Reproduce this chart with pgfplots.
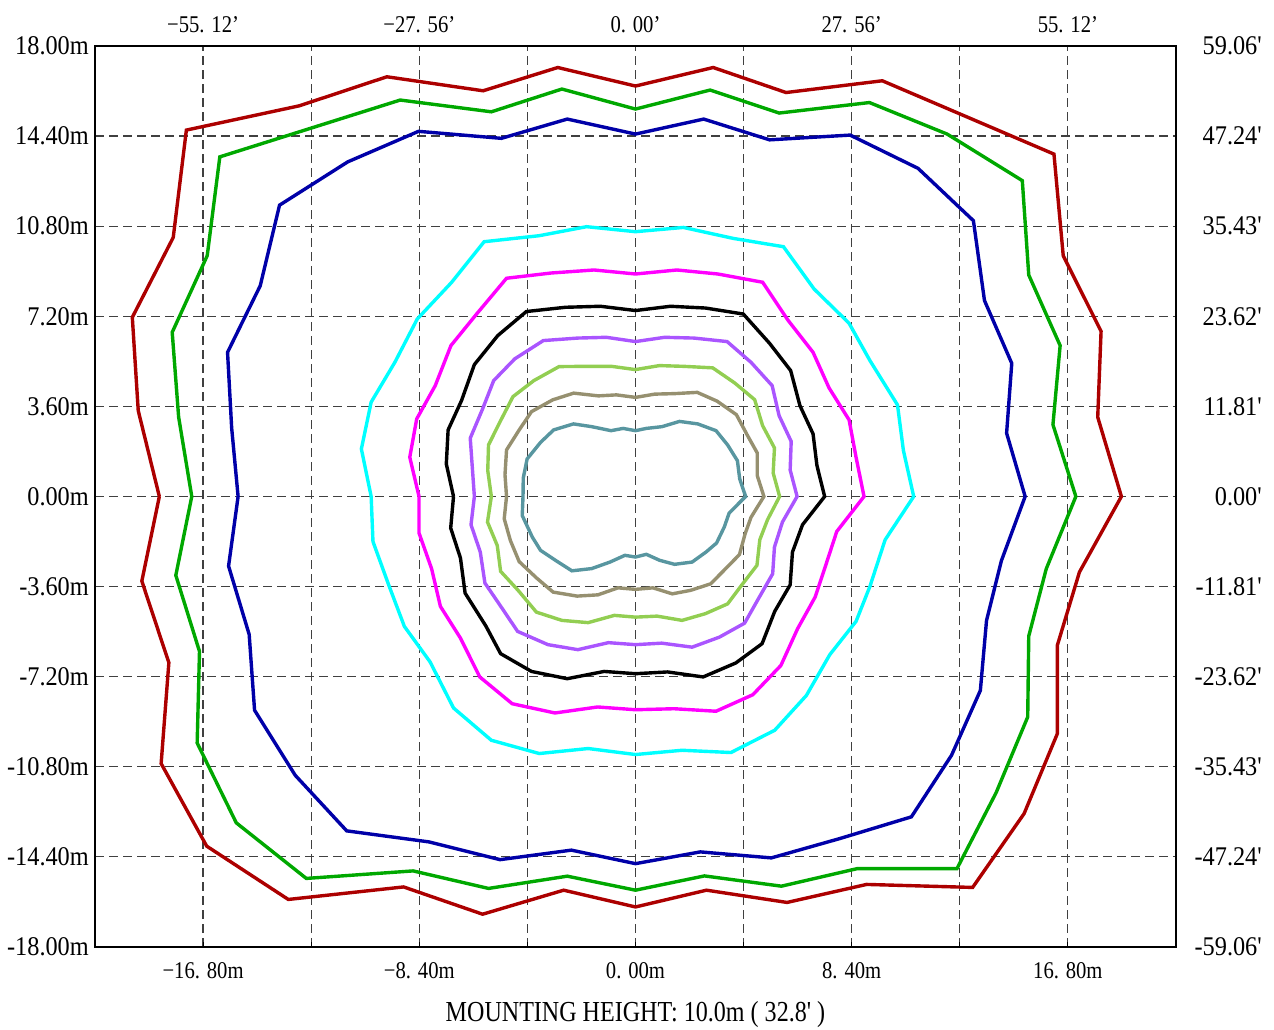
\documentclass[border=0pt]{standalone}
\usepackage{fontspec}
\setmainfont{Liberation Serif}
\newfontfamily\labfont[FakeStretch=0.9,Ligatures=TeXOff]{Liberation Serif}
\newfontfamily\simfont[FakeStretch=0.86]{Liberation Serif}
\newfontfamily\capfont[FakeStretch=0.83,Ligatures=TeXOff]{Liberation Serif}
\usepackage{pgfplots}
\pgfplotsset{compat=1.18}

\definecolor{cRed}{RGB}{172,0,0}
\definecolor{cGreen}{RGB}{0,168,0}
\definecolor{cBlue}{RGB}{0,0,168}
\definecolor{cCyan}{RGB}{0,255,255}
\definecolor{cMag}{RGB}{255,0,255}
\definecolor{cPurple}{RGB}{170,85,255}
\definecolor{cLgreen}{RGB}{146,206,82}
\definecolor{cKhaki}{RGB}{150,144,112}
\definecolor{cTeal}{RGB}{88,150,160}

\pgfplotsset{
  iso/.style={mark=none, line width=3.4pt, line join=miter},
}

\begin{document}
\begin{tikzpicture}
\useasboundingbox (0,0) rectangle (1274pt,1030pt);

% main axis: grid, contours, bottom/left labels
\begin{axis}[
  at={(95pt,83pt)}, anchor=south west,
  width=1081pt, height=901pt, scale only axis,
  xmin=-21, xmax=21, ymin=-18, ymax=18,
  axis line style={black, line width=1.1pt},
  xtick={-16.8,-12.6,-8.4,-4.2,0,4.2,8.4,12.6,16.8},
  xticklabels={−16. 80m,,−8. 40m,,0. 00m,,8. 40m,,16. 80m},
  ytick={-18,-14.4,-10.8,-7.2,-3.6,0,3.6,7.2,10.8,14.4,18},
  yticklabels={-18.00m,-14.40m,-10.80m,-7.20m,-3.60m,0.00m,3.60m,7.20m,10.80m,14.40m,18.00m},
  xtick pos=left, ytick pos=left,
  tick align=inside, major tick length=5pt,
  xtick style={black, line width=0.8pt},
  ytick style={draw=none},
  xmajorgrids, ymajorgrids,
  major grid style={black!75, line width=1.2pt, dash pattern=on 9pt off 5pt},
  xticklabel style={font=\simfont\fontsize{24}{24}\selectfont, anchor=base, yshift=-32pt, inner sep=0pt},
  yticklabel style={font=\labfont\fontsize{27}{27}\selectfont, anchor=east, xshift=-6pt, inner sep=0pt},
  xlabel={MOUNTING HEIGHT: 10.0m ( 32.8' )},
  xlabel style={font=\capfont\fontsize{29}{29}\selectfont, at={(axis description cs:0.5,0)}, anchor=base, yshift=-75pt, inner sep=0pt},
]
% outer red
\addplot[iso, cRed] coordinates {
(-18.50,0) (-19.32,3.43) (-19.55,7.16) (-17.96,10.35) (-17.45,14.64) (-13.06,15.61)
(-9.66,16.77) (-5.92,16.21) (-3.02,17.14) (0,16.40) (3.02,17.14) (5.85,16.14)
(9.59,16.61) (16.26,13.68) (16.62,9.62) (18.09,6.60) (17.96,3.17) (18.88,0)
(17.25,-3.02) (16.39,-5.95) (16.39,-9.48) (15.10,-12.67) (13.10,-15.62) (8.98,-15.50)
(5.89,-16.22) (2.76,-15.73) (0,-16.40) (-2.79,-15.73) (-5.94,-16.69) (-9.01,-15.60)
(-13.49,-16.10) (-16.66,-13.97) (-18.43,-10.67) (-18.13,-6.64) (-19.18,-3.38) (-18.50,0)
};
% green
\addplot[iso, cGreen] coordinates {
(-17.24,0) (-17.75,3.17) (-18.00,6.56) (-16.64,9.62) (-16.15,13.57) (-9.14,15.84)
(-5.60,15.37) (-2.86,16.28) (0,15.48) (2.90,16.24) (5.58,15.32) (9.09,15.74)
(12.11,14.48) (15.03,12.62) (15.28,8.85) (16.50,6.03) (16.22,2.87) (17.11,0)
(15.96,-2.89) (15.28,-5.58) (15.24,-8.81) (14.01,-11.84) (12.49,-14.87) (8.61,-14.87)
(5.67,-15.57) (2.68,-15.16) (0,-15.73) (-2.65,-15.17) (-5.71,-15.66) (-8.64,-14.96)
(-12.79,-15.26) (-15.51,-13.04) (-17.03,-9.85) (-16.94,-6.19) (-17.86,-3.15) (-17.24,0)
};
% blue
\addplot[iso, cBlue] coordinates {
(-15.44,0) (-15.69,2.74) (-15.85,5.76) (-14.58,8.42) (-13.83,11.64) (-11.18,13.37)
(-8.43,14.59) (-5.21,14.31) (-2.65,15.08) (0,14.48) (2.65,15.08) (5.21,14.25)
(8.34,14.44) (10.98,13.11) (13.13,11.02) (13.56,7.83) (14.62,5.32) (14.42,2.53)
(15.14,0) (14.22,-2.56) (13.64,-4.95) (13.40,-7.75) (12.28,-10.34) (10.72,-12.80)
(7.93,-13.67) (5.28,-14.44) (2.52,-14.20) (0,-14.67) (-2.49,-14.13) (-5.26,-14.51)
(-8.03,-13.80) (-11.22,-13.36) (-13.22,-11.14) (-14.80,-8.54) (-15.01,-5.51) (-15.81,-2.78) (-15.44,0)
};
% cyan
\addplot[iso, cCyan] coordinates {
(-10.27,0) (-10.65,1.90) (-10.27,3.77) (-9.35,5.36) (-8.48,7.09) (-7.14,8.56)
(-5.88,10.18) (-3.74,10.42) (-1.90,10.78) (0,10.58) (1.86,10.75) (3.81,10.31)
(5.75,9.98) (6.94,8.29) (8.30,6.92) (9.11,5.43) (10.18,3.66) (10.41,1.84) (10.81,0)
(9.70,-1.73) (9.11,-3.59) (8.57,-4.99) (7.55,-6.32) (6.64,-7.95) (5.41,-9.34)
(3.71,-10.23) (1.81,-10.14) (0,-10.31) (-1.84,-10.07) (-3.74,-10.27) (-5.60,-9.74)
(-7.07,-8.45) (-7.98,-6.61) (-8.98,-5.19) (-9.59,-3.53) (-10.20,-1.80) (-10.27,0)
};
% magenta
\addplot[iso, cMag] coordinates {
(-8.41,0) (-8.77,1.57) (-8.50,3.10) (-7.78,4.43) (-7.17,6.03) (-6.15,7.32)
(-5.01,8.72) (-3.27,8.93) (-1.61,9.05) (0,8.89) (1.61,9.05) (3.20,8.89)
(4.94,8.56) (5.92,7.05) (6.90,5.76) (7.52,4.34) (8.30,3.06) (8.57,1.57) (8.88,0)
(7.82,-1.40) (7.41,-2.69) (6.98,-4.02) (6.30,-5.28) (5.65,-6.75) (4.56,-7.92)
(3.13,-8.58) (1.50,-8.48) (0,-8.52) (-1.47,-8.41) (-3.13,-8.65) (-4.79,-8.28)
(-6.05,-7.21) (-6.80,-5.66) (-7.58,-4.39) (-7.92,-2.89) (-8.41,-1.46) (-8.41,0)
};
% black
\addplot[iso, black] coordinates {
(-7.07,0) (-7.35,1.30) (-7.28,2.66) (-6.76,3.83) (-6.26,5.27) (-5.35,6.43)
(-4.24,7.39) (-2.72,7.56) (-1.36,7.60) (0,7.43) (1.36,7.60) (2.72,7.53)
(4.19,7.29) (5.21,6.12) (6.03,5.03) (6.39,3.63) (6.90,2.50) (7.05,1.24) (7.35,0)
(6.49,-1.13) (6.10,-2.22) (6.01,-3.53) (5.41,-4.59) (4.92,-5.88) (3.90,-6.65)
(2.63,-7.21) (1.25,-7.01) (0,-7.08) (-1.22,-6.99) (-2.65,-7.28) (-4.04,-6.99)
(-5.24,-6.28) (-5.81,-5.18) (-6.62,-3.86) (-6.80,-2.46) (-7.18,-1.26) (-7.07,0)
};
% purple
\addplot[iso, cPurple] coordinates {
(-6.26,0) (-6.42,2.33) (-5.94,3.50) (-5.51,4.63) (-4.69,5.50) (-3.58,6.23)
(-2.24,6.33) (-1.13,6.36) (0,6.19) (1.13,6.36) (2.27,6.33) (3.56,6.19)
(4.49,5.36) (5.31,4.43) (5.58,3.23) (6.05,2.20) (6.01,1.06) (6.28,0)
(5.71,-1.02) (5.40,-2.02) (5.33,-3.09) (4.79,-4.06) (4.24,-5.06) (3.26,-5.62)
(2.20,-6.02) (1.02,-5.86) (0,-5.92) (-1.05,-5.84) (-2.24,-6.12) (-3.40,-5.92)
(-4.58,-5.39) (-5.26,-4.35) (-5.85,-3.46) (-6.03,-2.22) (-6.39,-1.13) (-6.26,0)
};
% light green
\addplot[iso, cLgreen] coordinates {
(-5.60,0) (-5.74,1.04) (-5.71,2.06) (-5.24,3.03) (-4.76,3.99) (-3.95,4.63)
(-2.97,5.19) (-1.95,5.20) (-0.93,5.20) (0,5.07) (0.93,5.23) (1.88,5.20)
(3.00,5.14) (3.85,4.54) (4.63,3.87) (4.94,2.83) (5.40,1.94) (5.35,0.94) (5.60,0)
(5.13,-0.93) (4.83,-1.73) (4.72,-2.75) (4.12,-3.55) (3.58,-4.29) (2.72,-4.68)
(1.81,-4.95) (0.84,-4.78) (0,-4.82) (-0.82,-4.75) (-1.84,-5.04) (-2.86,-4.95)
(-3.85,-4.62) (-4.56,-3.75) (-5.24,-2.99) (-5.37,-1.96) (-5.75,-1.02) (-5.60,0)
};
% khaki
\addplot[iso, cKhaki] coordinates {
(-5.01,0) (-5.07,0.87) (-5.01,1.86) (-4.53,2.64) (-4.04,3.39) (-3.22,3.86)
(-2.40,4.13) (-1.44,4.02) (-0.74,4.06) (0,3.96) (0.75,4.09) (1.51,4.11)
(2.40,4.16) (3.17,3.81) (3.92,3.27) (4.33,2.48) (4.73,1.74) (4.73,0.84) (4.99,0)
(4.49,-0.83) (4.26,-1.49) (4.04,-2.32) (3.44,-2.95) (2.92,-3.49) (2.14,-3.75)
(1.43,-3.89) (0.68,-3.65) (0,-3.71) (-0.68,-3.65) (-1.46,-3.93) (-2.27,-3.98)
(-3.20,-3.82) (-3.85,-3.25) (-4.52,-2.60) (-4.86,-1.76) (-5.10,-0.89) (-5.01,0)
};
% teal
\addplot[iso, cTeal] coordinates {
(-4.37,0) (-4.36,0.74) (-4.21,1.50) (-3.69,2.16) (-3.18,2.66) (-2.41,2.90)
(-1.70,2.79) (-0.95,2.63) (-0.48,2.72) (0,2.63) (0.42,2.72) (1.03,2.79)
(1.71,3.00) (2.42,2.90) (3.13,2.63) (3.58,2.06) (3.96,1.43) (4.05,0.70) (4.28,0)
(3.64,-0.66) (3.45,-1.22) (3.15,-1.86) (2.74,-2.22) (2.20,-2.62) (1.52,-2.71)
(0.94,-2.55) (0.42,-2.31) (0,-2.42) (-0.41,-2.35) (-0.99,-2.62) (-1.70,-2.88)
(-2.47,-2.97) (-3.11,-2.55) (-3.69,-2.15) (-4.01,-1.62) (-4.40,-0.76) (-4.37,0)
};
\end{axis}

% second axis: feet labels on top and right
\begin{axis}[
  at={(95pt,83pt)}, anchor=south west,
  width=1081pt, height=901pt, scale only axis,
  xmin=-21, xmax=21, ymin=-18, ymax=18,
  axis line style={draw=none},
  tick style={draw=none}, major tick length=0pt,
  xtick={-16.8,-8.4,0,8.4,16.8},
  xticklabels={−55. 12’,−27. 56’,0. 00’,27. 56’,55. 12’},
  ytick={-18,-14.4,-10.8,-7.2,-3.6,0,3.6,7.2,10.8,14.4,18},
  yticklabels={-59.06',-47.24',-35.43',-23.62',-11.81',0.00',11.81',23.62',35.43',47.24',59.06'},
  xticklabel pos=right, yticklabel pos=right,
  xticklabel style={font=\simfont\fontsize{24}{24}\selectfont, anchor=base, yshift=13pt, inner sep=0pt},
  yticklabel style={font=\labfont\fontsize{27}{27}\selectfont, anchor=east, xshift=86pt, inner sep=0pt},
]
\end{axis}
\end{tikzpicture}
\end{document}
